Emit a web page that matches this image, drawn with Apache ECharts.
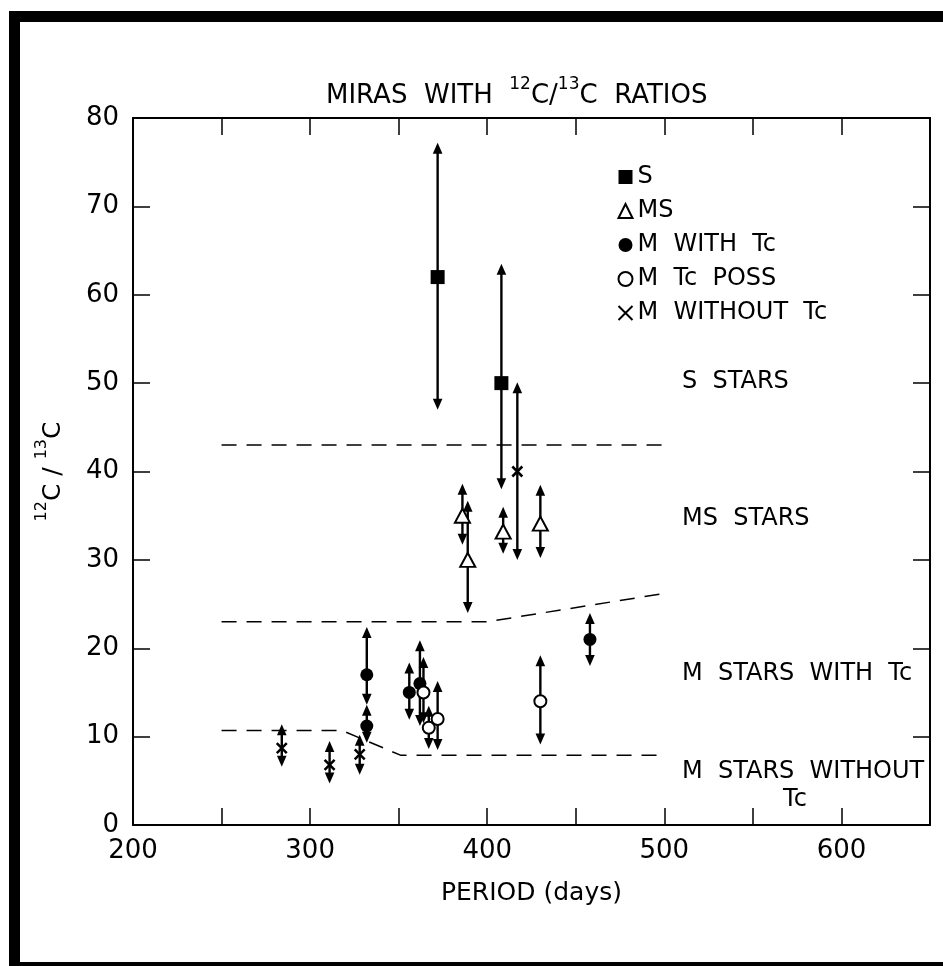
<!DOCTYPE html>
<html><head><meta charset="utf-8">
<script src="https://cdn.jsdelivr.net/npm/echarts@6/dist/echarts.min.js"></script>
<style>html,body{margin:0;padding:0;background:#fff}#c{width:943px;height:966px}</style>
</head><body><div id="c"></div>
<script>
// ---- data ----
const sPeriod = [372, 408];
const sRatio  = [62, 50];
const sLow    = [47, 38];
const sHigh   = [77.2, 63.5];

const msPeriod = [386, 389, 409, 430];
const msRatio  = [35, 30, 33.2, 34.1];
const msLow    = [31.7, 24, 30.7, 30.2];
const msHigh   = [38.6, 36.7, 36, 38.5];

const mTcPeriod = [332, 332, 356, 362, 458];
const mTcRatio  = [17, 11.2, 15, 16, 21];
const mTcLow    = [13.6, 9.3, 11.9, 11.2, 18];
const mTcHigh   = [22.4, 13.6, 18.4, 20.9, 24];

const mPossPeriod = [364, 367, 372, 430];
const mPossRatio  = [15, 11, 12, 14];
const mPossLow    = [11.5, 8.6, 8.5, 9.1];
const mPossHigh   = [19, 13.5, 16.3, 19.2];

const mNoPeriod = [284, 311, 328, 417];
const mNoRatio  = [8.7, 6.8, 8, 40];
const mNoLow    = [6.6, 4.7, 5.7, 30];
const mNoHigh   = [11.4, 9.5, 10.2, 50.1];

const bound1X = [250, 500];           const bound1Y = [43, 43];
const bound2X = [250, 400, 500];      const bound2Y = [23, 23, 26.2];
const bound3X = [250, 318, 351, 500]; const bound3Y = [10.7, 10.7, 7.9, 7.9];

const xTicks = [200, 300, 400, 500, 600];
const yTicks = [0, 10, 20, 30, 40, 50, 60, 70, 80];

const seriesNames = ['S', 'MS', 'M  WITH  Tc', 'M  Tc  POSS', 'M  WITHOUT  Tc'];
const regionLabels = ['S  STARS', 'MS  STARS', 'M  STARS  WITH  Tc', 'M  STARS  WITHOUT', 'Tc'];

// ---- helpers ----
const FONT = 'DejaVu Sans';
const zip = (a, b) => a.map((v, i) => [v, b[i]]);
const errRows = [];
[[sPeriod, sLow, sHigh], [msPeriod, msLow, msHigh], [mTcPeriod, mTcLow, mTcHigh],
 [mPossPeriod, mPossLow, mPossHigh], [mNoPeriod, mNoLow, mNoHigh]].forEach(([p, l, h]) => {
  p.forEach((x, i) => errRows.push([x, l[i], h[i]]));
});

function errRender(params, api) {
  const x = api.value(0), lo = api.value(1), hi = api.value(2);
  const a = api.coord([x, lo]), b = api.coord([x, hi]);
  const ah = 11, aw = 4.8;
  return {
    type: 'group',
    children: [
      { type: 'line', shape: { x1: a[0], y1: a[1] - ah + 2, x2: b[0], y2: b[1] + ah - 2 },
        style: { stroke: '#000', lineWidth: 2.4 } },
      { type: 'polygon', shape: { points: [[b[0], b[1]], [b[0] - aw, b[1] + ah], [b[0] + aw, b[1] + ah]] },
        style: { fill: '#000' } },
      { type: 'polygon', shape: { points: [[a[0], a[1]], [a[0] - aw, a[1] - ah], [a[0] + aw, a[1] - ah]] },
        style: { fill: '#000' } }
    ]
  };
}

const richSup = {
  b: { fontSize: 25, fontFamily: FONT, fontWeight: 'normal', color: '#000', verticalAlign: 'bottom', lineHeight: 32 },
  s: { fontSize: 16, fontFamily: FONT, fontWeight: 'normal', color: '#000', verticalAlign: 'top', lineHeight: 16 }
};
const richTitle = {
  b: { fontSize: 26, fontFamily: FONT, fontWeight: 'normal', color: '#000', verticalAlign: 'bottom', lineHeight: 33 },
  s: { fontSize: 17, fontFamily: FONT, fontWeight: 'normal', color: '#000', verticalAlign: 'top', lineHeight: 17 }
};

const dashed = { color: '#000', width: 1.5, type: [15, 10] };
const xSym = 'path://M0,0L10,10M10,0L0,10';
const axLine = { onZero: false, lineStyle: { color: '#000', width: 2 } };
const axTick = { inside: true, length: 17, lineStyle: { color: '#000', width: 1.5 } };

const chart = echarts.init(document.getElementById('c'), null, { renderer: 'canvas' });
chart.setOption({
  backgroundColor: '#fff',
  animation: false,
  title: {
    text: '{b|MIRAS  WITH  }{s|12}{b|C/}{s|13}{b|C  RATIOS}',
    left: 326, top: 76, padding: 0,
    textStyle: { fontWeight: 'normal', rich: richTitle }
  },
  grid: { left: 133, right: 13, top: 118, bottom: 141, containLabel: false },
  legend: {
    orient: 'vertical', left: 611, top: 160, itemWidth: 14, itemHeight: 14, itemGap: 10,
    selectedMode: false,
    textStyle: { fontSize: 24, fontFamily: FONT, color: '#000' },
    data: seriesNames
  },
  xAxis: [{
    type: 'value', min: 200, max: 650, interval: 50, position: 'bottom',
    name: 'PERIOD (days)', nameLocation: 'middle', nameGap: 56,
    nameTextStyle: { fontSize: 25, fontFamily: FONT, color: '#000' },
    axisLine: axLine, axisTick: axTick,
    axisLabel: { fontSize: 26, fontFamily: FONT, color: '#000', margin: 13,
      formatter: v => (xTicks.indexOf(v) >= 0 ? String(v) : '') },
    splitLine: { show: false }
  }, {
    type: 'value', min: 200, max: 650, interval: 50, position: 'top',
    axisLine: axLine, axisTick: axTick,
    axisLabel: { show: false }, splitLine: { show: false }
  }],
  yAxis: [{
    type: 'value', min: 0, max: 80, interval: 10, position: 'left',
    name: '{s|12}{b|C / }{s|13}{b|C}', nameLocation: 'middle', nameGap: 67, nameRotate: 90,
    nameTextStyle: { rich: richSup },
    axisLine: axLine, axisTick: axTick,
    axisLabel: { fontSize: 26, fontFamily: FONT, color: '#000', margin: 14,
      formatter: v => (yTicks.indexOf(v) >= 0 ? String(v) : '') },
    splitLine: { show: false }
  }, {
    type: 'value', min: 0, max: 80, interval: 10, position: 'right',
    axisLine: axLine, axisTick: axTick,
    axisLabel: { show: false }, splitLine: { show: false }
  }],
  series: [
    { type: 'line', data: zip(bound1X, bound1Y), symbol: 'none', lineStyle: dashed, silent: true, z: 1 },
    { type: 'line', data: zip(bound2X, bound2Y), symbol: 'none', lineStyle: dashed, silent: true, z: 1 },
    { type: 'line', data: zip(bound3X, bound3Y), symbol: 'none', lineStyle: dashed, silent: true, z: 1 },
    { type: 'custom', renderItem: errRender, data: errRows,
      encode: { x: 0, y: [1, 2] }, z: 2, silent: true },
    { name: seriesNames[0], type: 'scatter', data: zip(sPeriod, sRatio), symbol: 'rect', symbolSize: 14,
      itemStyle: { color: '#000', opacity: 1 }, z: 5 },
    { name: seriesNames[1], type: 'scatter', data: zip(msPeriod, msRatio), symbol: 'triangle', symbolSize: [15, 14],
      itemStyle: { color: '#fff', borderColor: '#000', borderWidth: 2, opacity: 1 }, z: 5 },
    { name: seriesNames[2], type: 'scatter', data: zip(mTcPeriod, mTcRatio), symbol: 'circle', symbolSize: 13,
      itemStyle: { color: '#000', opacity: 1 }, z: 5 },
    { name: seriesNames[3], type: 'scatter', data: zip(mPossPeriod, mPossRatio), symbol: 'circle', symbolSize: 12,
      itemStyle: { color: '#fff', borderColor: '#000', borderWidth: 2, opacity: 1 }, z: 5 },
    { name: seriesNames[4], type: 'scatter', data: zip(mNoPeriod, mNoRatio), symbol: xSym, symbolSize: 10,
      itemStyle: { color: 'none', borderColor: '#000', borderWidth: 2.5, opacity: 1 }, z: 5 }
  ],
  graphic: [
    { type: 'rect', left: 9, top: 11, shape: { width: 934, height: 11 }, style: { fill: '#000' }, silent: true },
    { type: 'rect', left: 9, top: 11, shape: { width: 11, height: 955 }, style: { fill: '#000' }, silent: true },
    { type: 'rect', left: 9, top: 962, shape: { width: 934, height: 4 }, style: { fill: '#000' }, silent: true },
    { type: 'text', x: 682, y: 382, style: { text: regionLabels[0], fontSize: 24, fontFamily: FONT, fill: '#000', textAlign: 'left', textVerticalAlign: 'middle' } },
    { type: 'text', x: 682, y: 519, style: { text: regionLabels[1], fontSize: 24, fontFamily: FONT, fill: '#000', textAlign: 'left', textVerticalAlign: 'middle' } },
    { type: 'text', x: 682, y: 674, style: { text: regionLabels[2], fontSize: 24, fontFamily: FONT, fill: '#000', textAlign: 'left', textVerticalAlign: 'middle' } },
    { type: 'text', x: 682, y: 772, style: { text: regionLabels[3], fontSize: 24, fontFamily: FONT, fill: '#000', textAlign: 'left', textVerticalAlign: 'middle' } },
    { type: 'text', x: 795, y: 800, style: { text: regionLabels[4], fontSize: 24, fontFamily: FONT, fill: '#000', textAlign: 'center', textVerticalAlign: 'middle' } }
  ]
});
</script>
</body></html>
